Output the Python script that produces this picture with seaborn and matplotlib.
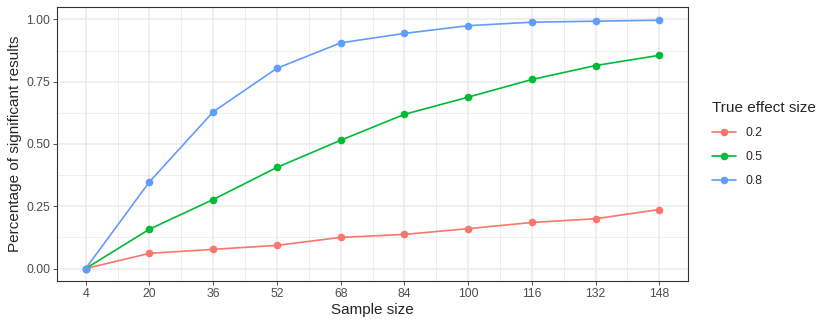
import matplotlib
matplotlib.use("Agg")
import matplotlib.pyplot as plt
import seaborn as sns
import pandas as pd
import numpy as np

# data
sample_sizes = [4, 20, 36, 52, 68, 84, 100, 116, 132, 148]
effect_sizes = ["0.2", "0.5", "0.8"]
power_02 = [0.0, 0.061, 0.077, 0.093, 0.125, 0.137, 0.160, 0.185, 0.200, 0.237]
power_05 = [0.0, 0.158, 0.277, 0.406, 0.515, 0.619, 0.688, 0.759, 0.815, 0.856]
power_08 = [0.0, 0.348, 0.629, 0.804, 0.906, 0.944, 0.975, 0.989, 0.993, 0.997]
palette = ["#F8766D", "#00BA38", "#619CFF"]

df = pd.DataFrame({
    "n": sample_sizes * 3,
    "power": power_02 + power_05 + power_08,
    "effect": [e for e in effect_sizes for _ in sample_sizes],
})

sns.set_theme(style="white")
plt.rcParams["font.family"] = ["Liberation Sans", "DejaVu Sans"]

fig = plt.figure(figsize=(8.3, 3.25), dpi=100)
ax = fig.add_axes([57 / 830, 1 - 281 / 325, (688 - 57) / 830, (281 - 7) / 325])

# grid like ggplot theme_bw
for x in np.arange(12, 156, 16):
    ax.axvline(x, color="#ebebeb", lw=0.55, zorder=0)
for y in [0.125, 0.375, 0.625, 0.875]:
    ax.axhline(y, color="#ebebeb", lw=0.55, zorder=0)
for x in sample_sizes:
    ax.axvline(x, color="#ebebeb", lw=1.1, zorder=0)
for y in [0, 0.25, 0.5, 0.75, 1.0]:
    ax.axhline(y, color="#ebebeb", lw=1.1, zorder=0)

sns.lineplot(data=df, x="n", y="power", hue="effect", hue_order=effect_sizes,
             palette=palette, marker="o", markersize=5.5, markeredgewidth=0,
             linewidth=1.2, ax=ax, zorder=3)

ax.set_xlim(4 - 7.2, 148 + 7.2)
ax.set_ylim(-0.05, 1.05)
ax.set_xticks(sample_sizes)
ax.set_yticks([0, 0.25, 0.5, 0.75, 1.0])
ax.set_yticklabels(["0.00", "0.25", "0.50", "0.75", "1.00"])
ax.tick_params(axis="both", labelsize=8.8, labelcolor="#4d4d4d", color="#333333",
               length=3, width=0.6, direction="out", bottom=True, left=True, pad=2)
for s in ax.spines.values():
    s.set_color("#333333")
    s.set_linewidth(0.8)

ax.set_xlabel("Sample size", fontsize=11, labelpad=2)
ax.set_ylabel("Percentage of significant results", fontsize=11, labelpad=3)

handles, labels = ax.get_legend_handles_labels()
ax.legend(handles, labels, title="True effect size", loc="center left",
          bbox_to_anchor=(1.02, 0.5), frameon=False, fontsize=8.8,
          title_fontsize=11, handlelength=2, labelspacing=1.0,
          alignment="left")

fig.savefig("out.png", dpi=100)
